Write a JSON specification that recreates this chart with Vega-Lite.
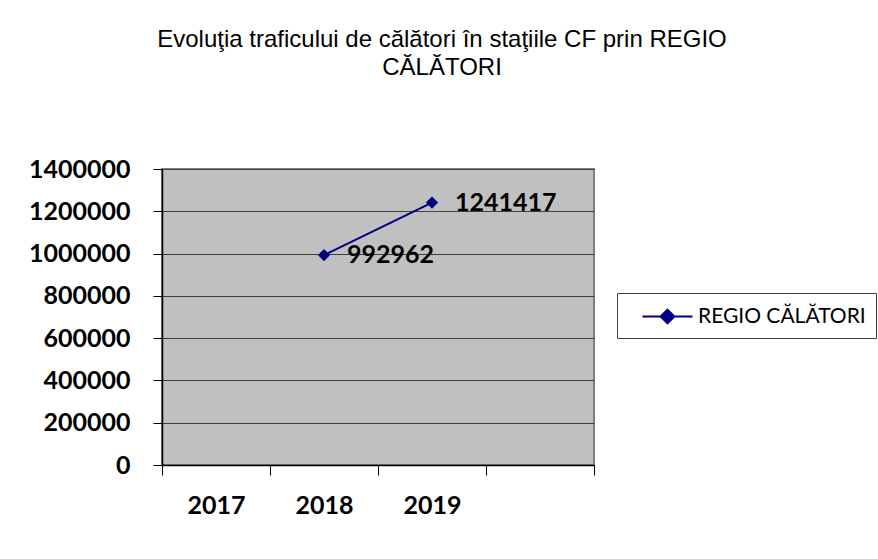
{
  "$schema": "https://vega.github.io/schema/vega-lite/v6.json",
  "width": 432,
  "height": 296,
  "autosize": {"type": "none"},
  "padding": {"left": 162, "top": 169, "right": 284, "bottom": 94},
  "background": "white",
  "title": {
    "text": ["Evoluţia traficului de călători în staţiile CF prin REGIO", "CĂLĂTORI"],
    "font": "Liberation Sans",
    "fontSize": 24,
    "fontWeight": "normal",
    "color": "black",
    "anchor": "middle",
    "dx": 64,
    "offset": 77,
    "frame": "group",
    "lineHeight": 28
  },
  "config": {
    "view": {"fill": "#C0C0C0", "stroke": "#808080", "strokeWidth": 2}
  },
  "data": {
    "values": [
      {"an": "2018", "calatori": 992962, "serie": "REGIO CĂLĂTORI"},
      {"an": "2019", "calatori": 1241417, "serie": "REGIO CĂLĂTORI"}
    ]
  },
  "encoding": {
    "x": {
      "field": "an",
      "type": "ordinal",
      "scale": {"domain": ["2017", "2018", "2019", " "], "paddingInner": 0, "paddingOuter": 0},
      "axis": {
        "title": null,
        "labelAngle": 0,
        "tickBand": "extent",
        "tickSize": 10,
        "tickColor": "black",
        "domainColor": "black",
        "domainWidth": 1.5,
        "labelFont": "Lato",
        "labelFontSize": 25,
        "labelFontWeight": "bold",
        "labelColor": "black",
        "labelPadding": 18,
        "grid": false
      }
    },
    "y": {
      "field": "calatori",
      "type": "quantitative",
      "scale": {"domain": [0, 1400000]},
      "axis": {
        "title": null,
        "values": [0, 200000, 400000, 600000, 800000, 1000000, 1200000, 1400000],
        "format": "d",
        "tickSize": 9,
        "tickColor": "black",
        "domainColor": "black",
        "domainWidth": 1.5,
        "labelFont": "Lato",
        "labelFontSize": 25,
        "labelFontWeight": "bold",
        "labelColor": "black",
        "labelPadding": 23,
        "gridColor": "#404040",
        "gridWidth": 1
      }
    }
  },
  "layer": [
    {
      "mark": {"type": "line", "strokeWidth": 2},
      "encoding": {
        "color": {
          "field": "serie",
          "type": "nominal",
          "scale": {"range": ["#000080"]},
          "legend": {
            "orient": "none",
            "legendX": 455,
            "legendY": 124,
            "title": null,
            "strokeColor": "#404040",
            "fillColor": "white",
            "padding": 10,
            "symbolType": "M-2,0L2,0M0,-0.55L0.55,0L0,0.55L-0.55,0Z",
            "symbolSize": 625,
            "symbolStrokeWidth": 2,
            "symbolFillColor": "#000080",
            "symbolStrokeColor": "#000080",
            "labelFont": "Lato",
            "labelFontSize": 21,
            "labelColor": "black",
            "labelLimit": 400,
            "labelOffset": 17,
            "symbolOffset": 27
          }
        }
      }
    },
    {
      "mark": {"type": "point", "shape": "diamond", "filled": true, "size": 150, "opacity": 1},
      "encoding": {
        "color": {"field": "serie", "type": "nominal", "legend": null}
      }
    },
    {
      "mark": {"type": "text", "align": "left", "baseline": "middle", "dx": 23, "font": "Lato", "fontSize": 25, "fontWeight": "bold", "color": "black"},
      "encoding": {
        "text": {"field": "calatori", "type": "quantitative", "format": "d"}
      }
    }
  ]
}
